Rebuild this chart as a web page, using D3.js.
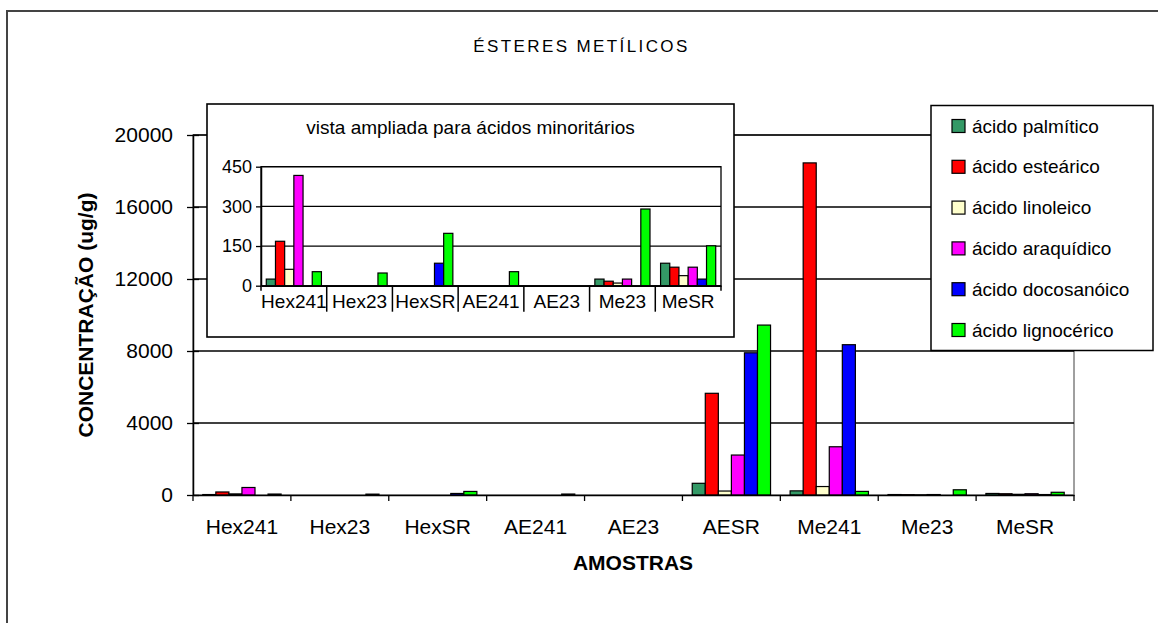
<!DOCTYPE html>
<html>
<head>
<meta charset="utf-8">
<script src="https://cdn.jsdelivr.net/npm/d3@7/dist/d3.min.js"></script>
<style>
  html, body { margin: 0; padding: 0; background: #fff; }
  svg { display: block; }
  text { font-family: "Liberation Sans", Arial, sans-serif; fill: #000; }
</style>
</head>
<body>
<svg id="chart" width="1158" height="623"></svg>
<script>
// ---------- DATA ----------
const categories = ["Hex241", "Hex23", "HexSR", "AE241", "AE23", "AESR", "Me241", "Me23", "MeSR"];
const insetCategories = ["Hex241", "Hex23", "HexSR", "AE241", "AE23", "Me23", "MeSR"];
const seriesNames = ["ácido palmítico", "ácido esteárico", "ácido linoleico", "ácido araquídico", "ácido docosanóico", "ácido lignocérico"];
const palmitico   = [25, 0, 0, 0, 0, 650, 230, 25, 85];
const estearico   = [168, 0, 0, 0, 0, 5650, 18450, 17, 70];
const linoleico   = [62, 0, 0, 0, 0, 220, 470, 10, 38];
const araquidico  = [417, 0, 0, 0, 0, 2220, 2680, 25, 70];
const docosanoico = [0, 0, 85, 0, 0, 7900, 8350, 0, 25];
const lignocerico = [53, 48, 198, 53, 0, 9440, 200, 290, 151];
const mainTicks = [0, 4000, 8000, 12000, 16000, 20000];
const insetTicks = [0, 150, 300, 450];
const colors = ["#339966", "#FF0000", "#FFFFCC", "#FF00FF", "#0000FF", "#00FF00"];

const seriesValues = [palmitico, estearico, linoleico, araquidico, docosanoico, lignocerico];
const rows = categories.map((c, i) => ({
  cat: c,
  vals: seriesNames.map((s, j) => ({ key: s, value: seriesValues[j][i], color: colors[j] }))
}));

const FONT = '"Liberation Sans", Arial, sans-serif';
const svg = d3.select("#chart");

// outer frame
svg.append("rect").attr("x", 7).attr("y", 11).attr("width", 1170).attr("height", 700)
  .attr("fill", "#fff").attr("stroke", "#444").attr("stroke-width", 2);

// title
svg.append("text").attr("x", 581.5).attr("y", 52).attr("text-anchor", "middle")
  .style("font-size", "17px").style("letter-spacing", "2.4px").text("ÉSTERES METÍLICOS");

// ---------- MAIN PLOT ----------
const M = { left: 193, right: 1074, top: 135, bottom: 495 };
const x = d3.scaleBand().domain(categories).range([M.left, M.right]).paddingInner(0).paddingOuter(0);
const xs = d3.scaleBand().domain(seriesNames).range([0, x.bandwidth()]).paddingInner(0).paddingOuter(0.75);
const y = d3.scaleLinear().domain([0, 20000]).range([M.bottom, M.top]);

// plot area border (gray)
svg.append("rect").attr("x", M.left).attr("y", M.top).attr("width", M.right - M.left).attr("height", M.bottom - M.top)
  .attr("fill", "#fff").attr("stroke", "#808080").attr("stroke-width", 1.5);

// gridlines
svg.append("g").selectAll("line").data(mainTicks.filter(d => d > 0)).join("line")
  .attr("x1", M.left).attr("x2", M.right)
  .attr("y1", d => y(d)).attr("y2", d => y(d))
  .attr("stroke", "#000").attr("stroke-width", 1.3);

// bars
const gMain = svg.append("g");
gMain.selectAll("g").data(rows).join("g")
  .attr("transform", d => `translate(${x(d.cat)},0)`)
  .selectAll("rect").data(d => d.vals).join("rect")
  .attr("x", d => xs(d.key)).attr("width", xs.bandwidth())
  .attr("y", d => y(d.value)).attr("height", d => y(0) - y(d.value))
  .attr("fill", d => d.color).attr("stroke", "#000").attr("stroke-width", 1.2)
  .style("display", d => d.value > 0 ? null : "none");

// y axis
const yAxis = svg.append("g").attr("transform", `translate(${M.left},0)`)
  .call(d3.axisLeft(y).tickValues(mainTicks).tickSizeInner(6).tickSizeOuter(0).tickPadding(14).tickFormat(d3.format("d")));
yAxis.select(".domain").attr("stroke", "#000").attr("stroke-width", 1.5);
yAxis.selectAll(".tick line").attr("stroke", "#000").attr("stroke-width", 1.3);
yAxis.selectAll(".tick").append("line").attr("x1", 0).attr("x2", 6).attr("stroke", "#000").attr("stroke-width", 1.3);
yAxis.selectAll(".tick text").style("font-family", FONT).style("font-size", "21px").attr("fill", "#000");

// x axis (labels at centre, ticks at boundaries)
const xAxis = svg.append("g").attr("transform", `translate(0,${M.bottom})`)
  .call(d3.axisBottom(x).tickSize(0).tickPadding(24));
xAxis.select(".domain").attr("stroke", "#000").attr("stroke-width", 1.5);
xAxis.selectAll(".tick text").style("font-family", FONT).style("font-size", "21px").attr("fill", "#000");
const bounds = categories.map(c => x(c)).concat([M.right]);
svg.append("g").selectAll("line").data(bounds).join("line")
  .attr("x1", d => d).attr("x2", d => d).attr("y1", M.bottom).attr("y2", M.bottom + 6)
  .attr("stroke", "#000").attr("stroke-width", 1.3);

// axis titles
svg.append("text").attr("x", 633).attr("y", 570).attr("text-anchor", "middle")
  .style("font-size", "21px").style("font-weight", "bold").text("AMOSTRAS");
svg.append("text").attr("transform", "translate(93,315) rotate(-90)").attr("text-anchor", "middle")
  .style("font-size", "21px").style("font-weight", "bold").text("CONCENTRAÇÃO (ug/g)");

// ---------- LEGEND ----------
const lg = svg.append("g");
lg.append("rect").attr("x", 931).attr("y", 105.5).attr("width", 222).attr("height", 245)
  .attr("fill", "#fff").attr("stroke", "#000").attr("stroke-width", 1.5);
const li = lg.selectAll("g.item").data(seriesNames).join("g").attr("class", "item")
  .attr("transform", (d, i) => `translate(952,${126 + i * 40.8})`);
li.append("rect").attr("x", 0).attr("y", -6.5).attr("width", 13).attr("height", 13)
  .attr("fill", (d, i) => colors[i]).attr("stroke", "#000").attr("stroke-width", 1.2);
li.append("text").attr("x", 20).attr("y", 0).attr("dy", "0.35em").style("font-size", "19px").text(d => d);

// ---------- INSET ----------
const I = { left: 261, right: 721, top: 166.7, bottom: 285.7 };
svg.append("rect").attr("x", 207).attr("y", 104).attr("width", 527).attr("height", 233)
  .attr("fill", "#fff").attr("stroke", "#000").attr("stroke-width", 1.6);
svg.append("text").attr("x", 470.5).attr("y", 134).attr("text-anchor", "middle")
  .style("font-size", "19px").text("vista ampliada para ácidos minoritários");

const insetRows = rows.filter(r => insetCategories.includes(r.cat));
const xi = d3.scaleBand().domain(insetCategories).range([I.left, I.right]).paddingInner(0).paddingOuter(0);
const xsi = d3.scaleBand().domain(seriesNames).range([0, xi.bandwidth()]).paddingInner(0).paddingOuter(0.575);
const yi = d3.scaleLinear().domain([0, 450]).range([I.bottom, I.top]);

svg.append("rect").attr("x", I.left).attr("y", I.top).attr("width", I.right - I.left).attr("height", I.bottom - I.top)
  .attr("fill", "#fff").attr("stroke", "#000").attr("stroke-width", 1.3);
svg.append("g").selectAll("line").data(insetTicks.filter(d => d > 0)).join("line")
  .attr("x1", I.left).attr("x2", I.right).attr("y1", d => yi(d)).attr("y2", d => yi(d))
  .attr("stroke", "#000").attr("stroke-width", 1.3);

svg.append("g").selectAll("g").data(insetRows).join("g")
  .attr("transform", d => `translate(${xi(d.cat)},0)`)
  .selectAll("rect").data(d => d.vals).join("rect")
  .attr("x", d => xsi(d.key)).attr("width", xsi.bandwidth())
  .attr("y", d => yi(d.value)).attr("height", d => yi(0) - yi(d.value))
  .attr("fill", d => d.color).attr("stroke", "#000").attr("stroke-width", 1.2)
  .style("display", d => d.value > 0 ? null : "none");

const yiAxis = svg.append("g").attr("transform", `translate(${I.left},0)`)
  .call(d3.axisLeft(yi).tickValues(insetTicks).tickSizeInner(5).tickSizeOuter(0).tickPadding(4));
yiAxis.select(".domain").attr("stroke", "#000").attr("stroke-width", 1.5);
yiAxis.selectAll(".tick line").attr("stroke", "#000").attr("stroke-width", 1.3);
yiAxis.selectAll(".tick text").style("font-family", FONT).style("font-size", "18px").attr("fill", "#000");

const xiAxis = svg.append("g").attr("transform", `translate(0,${I.bottom})`)
  .call(d3.axisBottom(xi).tickSize(0).tickPadding(8.5));
xiAxis.select(".domain").attr("stroke", "#000").attr("stroke-width", 1.5);
xiAxis.selectAll(".tick text").style("font-family", FONT).style("font-size", "19px").attr("fill", "#000");
const ibounds = insetCategories.map(c => xi(c)).concat([I.right]);
svg.append("g").selectAll("line").data(ibounds).join("line")
  .attr("x1", d => d).attr("x2", d => d).attr("y1", I.bottom)
  .attr("y2", (d, i) => (i === 0 || i === ibounds.length - 1) ? I.bottom + 5 : I.bottom + 26)
  .attr("stroke", "#000").attr("stroke-width", 1.5);
</script>
</body>
</html>
